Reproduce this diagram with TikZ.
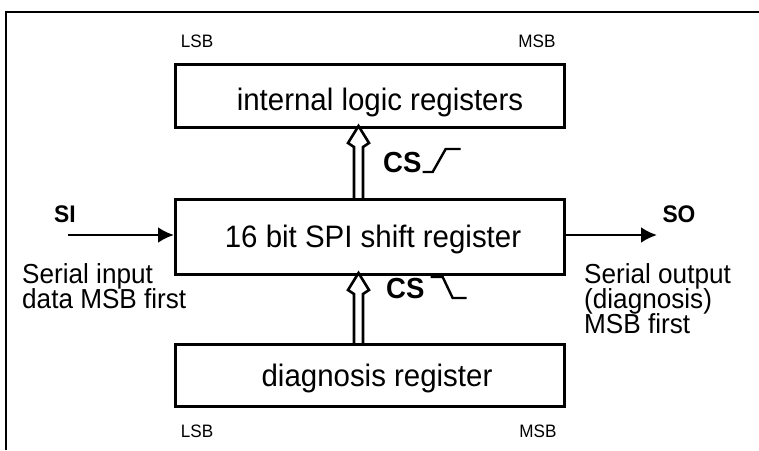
\documentclass[tikz,border=0pt]{standalone}
\usepackage{fontspec}
\usetikzlibrary{arrows.meta}
\setmainfont{Liberation Sans}[FakeStretch=0.95]
\begin{document}
\begin{tikzpicture}[x=1pt,y=-1pt,
  box/.style={draw,line width=2.8pt,minimum width=389pt,inner sep=0pt},
  wire/.style={line width=2.8pt},
  boxtxt/.style={inner sep=0pt,font=\fontsize{31}{31}\selectfont},
  lbl/.style={inner sep=0pt,font=\fontsize{27.5}{27.5}\selectfont},
  sig/.style={inner sep=0pt,font=\fontsize{24}{24}\selectfont\bfseries},
  cs/.style={inner sep=0pt,font=\fontsize{29}{29}\selectfont\bfseries},
  bit/.style={inner sep=0pt,font=\fontsize{18}{18}\selectfont},
  hollow/.style={line width=2.6pt,line join=miter}]
\useasboundingbox (0,0) rectangle (759,450);
% frame
\draw[line width=2pt] (6,450) -- (6,12) -- (759,12);
% boxes
\node[box,minimum height=63pt,anchor=north west] (top) at (174,63) {};
\node[box,minimum height=75pt,anchor=north west] (mid) at (174,198) {};
\node[box,minimum height=62pt,anchor=north west] (bot) at (174,343) {};
\node[boxtxt,anchor=base] (toptxt) at (380,110) {internal logic registers};
\node[boxtxt,anchor=base] (midtxt) at (373,247) {16 bit SPI shift register};
\node[boxtxt,anchor=base] (bottxt) at (377,386) {diagnosis register};
% LSB/MSB
\node[bit,anchor=base] (lsbt) at (197,47) {LSB};
\node[bit,anchor=base] (msbt) at (537,47) {MSB};
\node[bit,anchor=base] (lsbb) at (197,437) {LSB};
\node[bit,anchor=base] (msbb) at (538,437) {MSB};
% SI / SO
\coordinate (siin) at (68,235);
\draw[wire,-{Latex[length=16pt,width=16pt]}] (siin) -- (mid.west |- siin);
\node[sig,anchor=base] (si) at (65,222) {SI};
\coordinate (soout) at (657,235);
\draw[wire,-{Latex[length=16pt,width=16pt]}] (mid.east |- soout) -- (soout);
\node[sig,anchor=base] (so) at (679,222) {SO};
\node[lbl,anchor=base west] (sitxt) at (22,283) {Serial input};
\node[lbl,anchor=base west] (sitxt2) at (22,308) {data MSB first};
\node[lbl,anchor=base west] (sotxt) at (584,283) {Serial output};
\node[lbl,anchor=base west] (sotxt2) at (584,308) {(diagnosis)};
\node[lbl,anchor=base west] (sotxt3) at (584,333) {MSB first};
% hollow arrows
\draw[hollow] (354,198) -- (354,147) -- (348,143) -- (358.5,126) -- (369,143) -- (363,147) -- (363,198);
\draw[hollow] (354,343) -- (354,294) -- (348,290) -- (358.5,273) -- (369,290) -- (363,294) -- (363,343);
% CS labels
\node[cs,anchor=base west] (cs1) at (383,172) {CS};
\draw[line width=2.4pt] (cs1.base east) ++(1,0) -- ++(10,0) -- ++(13,-23) -- ++(15,0);
\node[cs,anchor=base west] (cs2) at (386,298) {CS};
\draw[line width=2.4pt] (cs2.base east) ++(6,-21) -- ++(12,0) -- ++(10,21) -- ++(14,0);
\end{tikzpicture}
\end{document}
